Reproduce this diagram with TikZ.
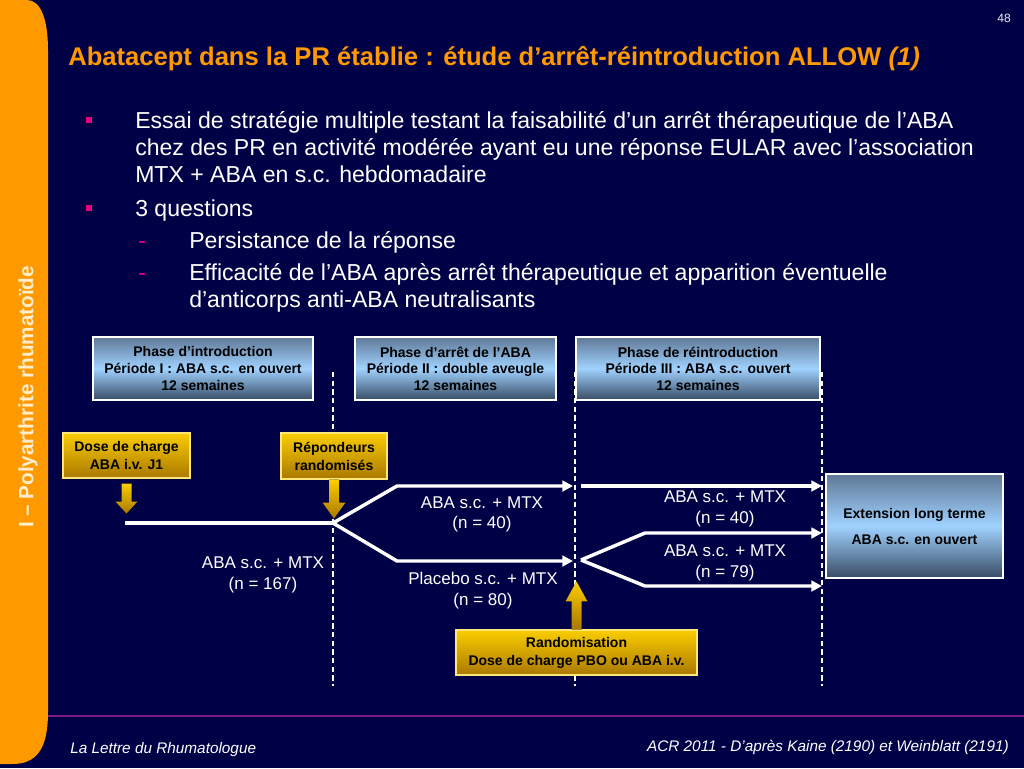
\documentclass[tikz,border=0pt]{standalone}
\usepackage{fontspec}
\setmainfont{Liberation Sans}
\usetikzlibrary{arrows.meta,calc}
\definecolor{bg}{RGB}{0,0,70}
\definecolor{orng}{RGB}{255,153,0}
\definecolor{mag}{RGB}{235,0,130}
\definecolor{purp}{RGB}{130,30,130}
\definecolor{cream}{RGB}{255,238,205}
\definecolor{phtop}{RGB}{95,120,150}
\definecolor{phmid}{RGB}{160,210,255}
\definecolor{phbot}{RGB}{55,75,100}
\definecolor{gtop}{RGB}{250,205,0}
\definecolor{gbot}{RGB}{170,120,0}
\definecolor{gedge}{RGB}{255,230,120}
\tikzset{
 phasebox/.style={draw=white, line width=0.9pt, top color=phtop, bottom color=phbot, middle color=phmid, align=center, inner sep=0pt, font=\fontsize{10.5}{12.4}\selectfont\bfseries, text=black},
 extbox/.style={phasebox, font=\fontsize{10.5}{19.5}\selectfont\bfseries},
 goldbox/.style={draw=gedge, line width=0.8pt, top color=gtop, bottom color=gbot, align=center, inner sep=0pt, font=\fontsize{10.5}{13.5}\selectfont\bfseries, text=black},
 goldarrow/.style={top color=gtop, bottom color=gbot, draw=none},
 flow/.style={white, line width=2.6pt, line join=miter},
 flowarrow/.style={flow, -{Triangle[length=8pt,width=8pt]}},
 period/.style={white, line width=0.9pt, dash pattern=on 4pt off 2.5pt},
 armlabel/.style={white, align=center, inner sep=0pt, font=\fontsize{12.75}{15.5}\selectfont},
 bodytext/.style={white, anchor=base west, inner sep=0pt, font=\fontsize{17.3}{20}\selectfont},
 dashmark/.style={mag, anchor=base west, inner sep=0pt, font=\fontsize{17.3}{20}\selectfont},
 bulletsq/.style={fill=mag, minimum size=4.5pt, inner sep=0pt},
 footer/.style={white, inner sep=0pt, font=\fontsize{11.5}{14}\selectfont\itshape},
}
\begin{document}
\begin{tikzpicture}[x=0.75pt,y=-0.75pt]
\useasboundingbox (0,0) rectangle (1024,768);
\fill[bg] (0,0) rectangle (1024,768);
\fill[orng] (0,0) -- (27,0) .. controls (41,0) and (48,20) .. (48,50) -- (48,712) .. controls (48,750) and (36,764) .. (12,764) -- (0,764) -- cycle;
\node[rotate=90, text=cream, inner sep=0pt, font=\fontsize{15.5}{18}\selectfont\bfseries] (side) at (28,397) {I – Polyarthrite rhumatoïde};
\node[text=white!85!gray, inner sep=0pt, font=\fontsize{9}{10}\selectfont] (pnum) at (1004,18) {48};
\node[anchor=base west, inner sep=0pt, text=orng, font=\fontsize{19.2}{22}\selectfont\bfseries] (title) at (68,65) {Abatacept dans la PR établie : étude d’arrêt-réintroduction ALLOW \textit{(1)}};

% bullets
\node[bulletsq] (b1) at (89,120) {};
\node[bodytext] (t1) at (135,128) {Essai de stratégie multiple testant la faisabilité d’un arrêt thérapeutique de l’ABA};
\node[bodytext] (t2) at (135,155) {chez des PR en activité modérée ayant eu une réponse EULAR avec l’association};
\node[bodytext] (t3) at (135,182) {MTX + ABA en s.c. hebdomadaire};
\node[bulletsq] (b2) at (89,208) {};
\node[bodytext] (t4) at (135,216) {3 questions};
\node[dashmark] (d1) at (138,248) {-};
\node[bodytext] (t5) at (189,248) {Persistance de la réponse};
\node[dashmark] (d2) at (138,280) {-};
\node[bodytext] (t6) at (189,280) {Efficacité de l’ABA après arrêt thérapeutique et apparition éventuelle};
\node[bodytext] (t7) at (189,307) {d’anticorps anti-ABA neutralisants};

% phase boxes
\node[phasebox, minimum width=165pt, minimum height=47.25pt] (ph1) at (203,368.5) {Phase d’introduction\\Période I : ABA s.c. en ouvert\\12 semaines};
\node[phasebox, minimum width=150.75pt, minimum height=47.25pt] (ph2) at (455.5,368.5) {Phase d’arrêt de l’ABA\\Période II : double aveugle\\12 semaines};
\node[phasebox, minimum width=183pt, minimum height=47.25pt] (ph3) at (698,368.5) {Phase de réintroduction\\Période III : ABA s.c. ouvert\\12 semaines};

% period dashed lines
\coordinate (p1t) at (333,372); \coordinate (p1b) at (333,686);
\coordinate (p2t) at (575,372); \coordinate (p2b) at (575,686);
\coordinate (p3t) at (822,372); \coordinate (p3b) at (822,686);
\draw[period] (p1t) -- (p1b);
\draw[period] (p2t) -- (p2b);
\draw[period] (p3t) -- (p3b);

% extension box
\node[extbox, minimum width=132.75pt, minimum height=78pt] (ext) at (914.5,526) {Extension long terme\\ABA s.c. en ouvert};

% gold boxes
\node[goldbox, minimum width=95.25pt, minimum height=33.75pt] (g1) at (126.5,455.5) {Dose de charge\\ABA i.v. J1};
\node[goldbox, minimum width=79.5pt, minimum height=34.5pt] (g2) at (334,456) {Répondeurs\\randomisés};
\node[goldbox, minimum width=180.75pt, minimum height=33.75pt] (g3) at (576.5,652.5) {Randomisation\\Dose de charge PBO ou ABA i.v.};

% gold arrows
\fill[goldarrow, shift={(g1.south)}] (-5,5) -- (5,5) -- (5,23) -- (11,23) -- (0,35) -- (-11,23) -- (-5,23) -- cycle;
\fill[goldarrow, shift={(g2.south)}] (-5,0) -- (5,0) -- (5,23) -- (11.5,23) -- (0,39) -- (-11.5,23) -- (-5,23) -- cycle;
\fill[goldarrow, shift={(g3.north)}] (-5,0) -- (-5,-28) -- (-11,-28) -- (0,-48) -- (11,-28) -- (5,-28) -- (5,0) -- cycle;

% flow lines
\coordinate (s0) at (125,523);
\coordinate (sp1) at (333,523);
\coordinate (u1) at (397,486); \coordinate (u1e) at (573,486);
\coordinate (l1) at (397,561); \coordinate (l1e) at (573,561);
\coordinate (r0) at (581,486); \coordinate (r0e) at (822,486);
\coordinate (sp2) at (581,560);
\coordinate (u2) at (645,533); \coordinate (u2e) at (822,533);
\coordinate (l2) at (645,586); \coordinate (l2e) at (822,586);
\draw[flow] (s0) -- (sp1);
\draw[flowarrow] (sp1) -- (u1) -- (u1e);
\draw[flowarrow] (sp1) -- (l1) -- (l1e);
\draw[flowarrow] (r0) -- (r0e);
\draw[flowarrow] (sp2) -- (u2) -- (u2e);
\draw[flowarrow] (sp2) -- (l2) -- (l2e);

% labels
\node[armlabel] (lab167) at (263,575) {ABA s.c. + MTX\\(n = 167)};
\node[armlabel] (lab40a) at (482,514.5) {ABA s.c. + MTX\\(n = 40)};
\node[armlabel] (labpl) at (483,590.5) {Placebo s.c. + MTX\\(n = 80)};
\node[armlabel] (lab40b) at (725,509) {ABA s.c. + MTX\\(n = 40)};
\node[armlabel] (lab79) at (725,563) {ABA s.c. + MTX\\(n = 79)};

% footer
\coordinate (fl) at (48,716); \coordinate (fr) at (1024,716);
\draw[purp, line width=1pt] (fl) -- (fr);
\node[footer, anchor=base west] (f1) at (70,753) {La Lettre du Rhumatologue};
\node[footer, anchor=base east] (f2) at (1009,751) {ACR 2011 - D’après Kaine (2190) et Weinblatt (2191)};
\end{tikzpicture}
\end{document}
